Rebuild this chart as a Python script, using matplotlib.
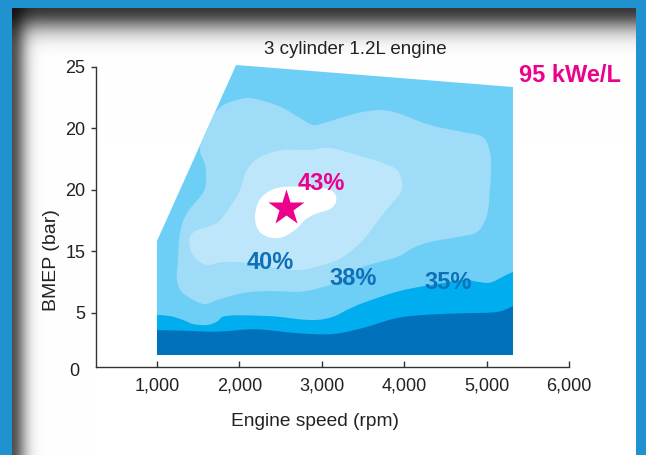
import numpy as np
import matplotlib
matplotlib.use("Agg")
import matplotlib.pyplot as plt
from matplotlib.path import Path
from matplotlib.patches import PathPatch

# ---------------- data (engine speed in rpm, BMEP in axis units) ----------------
envelope_rpm = [1000, 1000, 1960, 5320, 5320]
envelope_bmep = [1.56, 10.83, 25.14, 23.35, 1.56]

zone_dark_rpm = [1000, 1316, 1728, 2129, 2335, 2735, 3136, 3500, 3913, 4313, 4714, 5126, 5320]
zone_dark_top = [3.59, 3.54, 3.46, 3.65, 3.59, 3.32, 3.27, 3.76, 4.57, 4.85, 4.95, 5.06, 5.54]

zone_cyan_rpm = [1000, 1158, 1316, 1437, 1607, 1728, 1801, 1971, 2335, 2529, 2735, 2942,
                 3136, 3306, 3500, 3913, 4313, 4714, 4884, 5041, 5199, 5320]
zone_cyan_top = [4.81, 4.73, 4.41, 4.08, 4.00, 4.27, 4.67, 4.79, 4.73, 4.63, 4.46, 4.41,
                 4.67, 5.22, 5.79, 6.71, 7.25, 7.66, 7.52, 7.44, 7.93, 8.33]

contour_38_rpm = [1522, 1619, 1789, 1971, 2129, 2335, 2529, 2735, 2893, 3063, 3342, 3500, 3706,
                  3913, 4313, 4714, 4956, 5041, 5053, 5041, 5005, 4884, 4641, 4313, 4107, 3913,
                  3500, 3342, 3015, 2735, 2335, 2044, 1728, 1558, 1316, 1243, 1255, 1279, 1364,
                  1558, 1595, 1583]
contour_38_bmep = [18.39, 20.50, 21.80, 22.29, 22.46, 22.13, 21.64, 20.83, 20.26, 20.50, 21.07,
                   21.32, 21.48, 21.24, 20.26, 19.68, 19.28, 18.06, 16.60, 15.14, 12.94, 11.56,
                   11.15, 10.75, 10.26, 9.53, 8.72, 7.90, 7.09, 6.71, 6.76, 6.60, 6.03, 5.71,
                   6.60, 7.66, 9.28, 11.48, 13.11, 14.73, 15.79, 17.01]

contour_40_rpm = [1400, 1485, 1728, 1886, 2007, 2092, 2250, 2529, 2857, 3100, 3427, 3743, 3913,
                  3973, 3961, 3864, 3706, 3500, 3257, 3015, 2735, 2456, 2129, 1801, 1607, 1461,
                  1400]
contour_40_bmep = [11.15, 11.72, 12.29, 13.59, 14.98, 16.60, 17.66, 18.23, 18.23, 18.39, 17.82,
                   17.17, 16.60, 15.63, 14.81, 14.00, 12.70, 10.91, 9.53, 8.88, 8.47, 8.63,
                   9.04, 9.12, 8.88, 9.45, 10.34]

contour_43_rpm = [2189, 2226, 2311, 2456, 2675, 2918, 3075, 3160, 3172, 3100, 2918, 2796, 2687,
                  2529, 2371, 2238]
contour_43_bmep = [12.70, 13.92, 14.65, 15.14, 15.26, 15.18, 15.06, 14.65, 14.00, 13.43, 13.02,
                   12.54, 11.80, 11.15, 11.11, 11.64]

best_point = (2566, 13.49)

labels = ["43%", "40%", "38%", "35%"]
label_rpm = [2990, 2371, 3379, 4535]
label_bmep = [15.52, 9.12, 7.80, 7.46]

xticks = [1000, 2000, 3000, 4000, 5000, 6000]
xtick_labels = ["1,000", "2,000", "3,000", "4,000", "5,000", "6,000"]
yticks = [5, 10, 15, 20, 25]
ytick_labels = ["5", "15", "20", "20", "25"]

# ---------------- style ----------------
FONT = ["Liberation Sans", "DejaVu Sans"]
plt.rcParams["font.family"] = FONT
C_DARK = "#0071BA"
C_CYAN = "#00AEEF"
C_ENV = "#6DCFF6"
C_MID = "#9EDCF8"
C_LIGHT = "#BEE6FA"
C_PINK = "#EC008C"
C_LBL = "#0E70B8"
C_FRAME = "#2192D0"
C_AXIS = "#333333"

W, H = 646, 455
fig = plt.figure(figsize=(W / 100, H / 100), dpi=100)

# background frame with shadow
bg = fig.add_axes([0, 0, 1, 1], zorder=-10)
yy, xx = np.mgrid[0:H, 0:W] + 0.5
top, left, right = 8, 12, 636
dt = 0.78 * np.exp(-((np.clip(yy - top, 0, None)) / 22.0) ** 2)
dl = 0.68 * np.exp(-((np.clip(xx - left, 0, None)) / 14.0) ** 2)
shade = (1 - dt) * (1 - dl)
img = np.repeat(shade[..., None], 3, axis=2)
mask = (yy < top) | (xx < left) | (xx >= right)
img[mask] = matplotlib.colors.to_rgb(C_FRAME)
bg.imshow(img, aspect="auto", extent=(0, W, H, 0), interpolation="nearest")
bg.axis("off")

# main axes
ylo, yhi = 0.61, 25.6
ax = fig.add_axes([96 / W, (H - 366.7) / H, (569 - 96) / W, (yhi - ylo) * 12.3 / H])
ax.set_facecolor("none")
ax.set_xlim(260, 6000)
ax.set_ylim(ylo, yhi)


def smooth(xs, ys, closed):
    pts = np.column_stack([xs, ys]).astype(float)
    n = len(pts)
    verts = [pts[0]]
    codes = [Path.MOVETO]
    segs = n if closed else n - 1
    for i in range(segs):
        p0 = pts[(i - 1) % n] if (closed or i > 0) else pts[0]
        p1 = pts[i % n]
        p2 = pts[(i + 1) % n]
        p3 = pts[(i + 2) % n] if (closed or i + 2 < n) else pts[-1]
        verts += [p1 + (p2 - p0) / 6, p2 - (p3 - p1) / 6, p2]
        codes += [Path.CURVE4] * 3
    return verts, codes


env_poly = plt.Polygon(np.column_stack([envelope_rpm, envelope_bmep]), closed=True,
                       facecolor=C_ENV, edgecolor="none", zorder=1, clip_on=False)
ax.add_patch(env_poly)


def add_band(xs, ys, color, z):
    v, c = smooth(xs, ys, False)
    v = v + [np.array([xs[-1], envelope_bmep[0]]), np.array([xs[0], envelope_bmep[0]]),
             np.array([xs[0], ys[0]])]
    c = c + [Path.LINETO, Path.LINETO, Path.CLOSEPOLY]
    p = PathPatch(Path(v, c), facecolor=color, edgecolor="none", zorder=z)
    ax.add_patch(p)
    p.set_clip_path(env_poly)


def add_blob(xs, ys, color, z):
    v, c = smooth(xs, ys, True)
    v = v + [v[0]]
    c = c + [Path.CLOSEPOLY]
    p = PathPatch(Path(v, c), facecolor=color, edgecolor="none", zorder=z)
    ax.add_patch(p)
    p.set_clip_path(env_poly)


add_blob(contour_38_rpm, contour_38_bmep, C_MID, 2)
add_blob(contour_40_rpm, contour_40_bmep, C_LIGHT, 3)
add_blob(contour_43_rpm, contour_43_bmep, "white", 4)
add_band(zone_cyan_rpm, zone_cyan_top, C_CYAN, 5)
add_band(zone_dark_rpm, zone_dark_top, C_DARK, 6)

ax.plot([best_point[0]], [best_point[1]], marker="*", ms=27, color=C_PINK, mec="none", zorder=8)

for lab, xr, yb in zip(labels, label_rpm, label_bmep):
    ax.text(xr, yb, lab, ha="center", va="center", fontsize=17, fontweight="bold",
            color=C_PINK if lab == "43%" else C_LBL, zorder=9)

# axes styling
for s in ["top", "right"]:
    ax.spines[s].set_visible(False)
for s in ["left", "bottom"]:
    ax.spines[s].set_color(C_AXIS)
    ax.spines[s].set_linewidth(1.0)
ax.spines["left"].set_bounds(ylo, 25)
ax.set_xticks(xticks)
ax.set_xticklabels(xtick_labels)
ax.set_yticks(yticks)
ax.set_yticklabels(ytick_labels)
ax.tick_params(axis="x", direction="in", length=4, width=1.0, color=C_AXIS, pad=8,
               labelsize=13, labelcolor="#222222")
ax.tick_params(axis="y", direction="out", length=3.5, width=1.0, color=C_AXIS, pad=4,
               labelsize=13, labelcolor="#222222")

fig.text(79 / W, 1 - 371.7 / H, "0", ha="right", va="center", fontsize=13, color="#222222")
fig.text(52 / W, 1 - 260 / H, "BMEP (bar)", rotation=90, ha="center", va="center",
         fontsize=14, color="#222222")
fig.text(315 / W, 1 - 421 / H, "Engine speed (rpm)", ha="center", va="center",
         fontsize=13.8, color="#222222")
fig.text(355 / W, 1 - 50 / H, "3 cylinder 1.2L engine", ha="center", va="center",
         fontsize=13.5, color="#222222")
fig.text(570 / W, 1 - 76 / H, "95 kWe/L", ha="center", va="center", fontsize=17,
         fontweight="bold", color=C_PINK)

fig.savefig("out.png", dpi=100)
